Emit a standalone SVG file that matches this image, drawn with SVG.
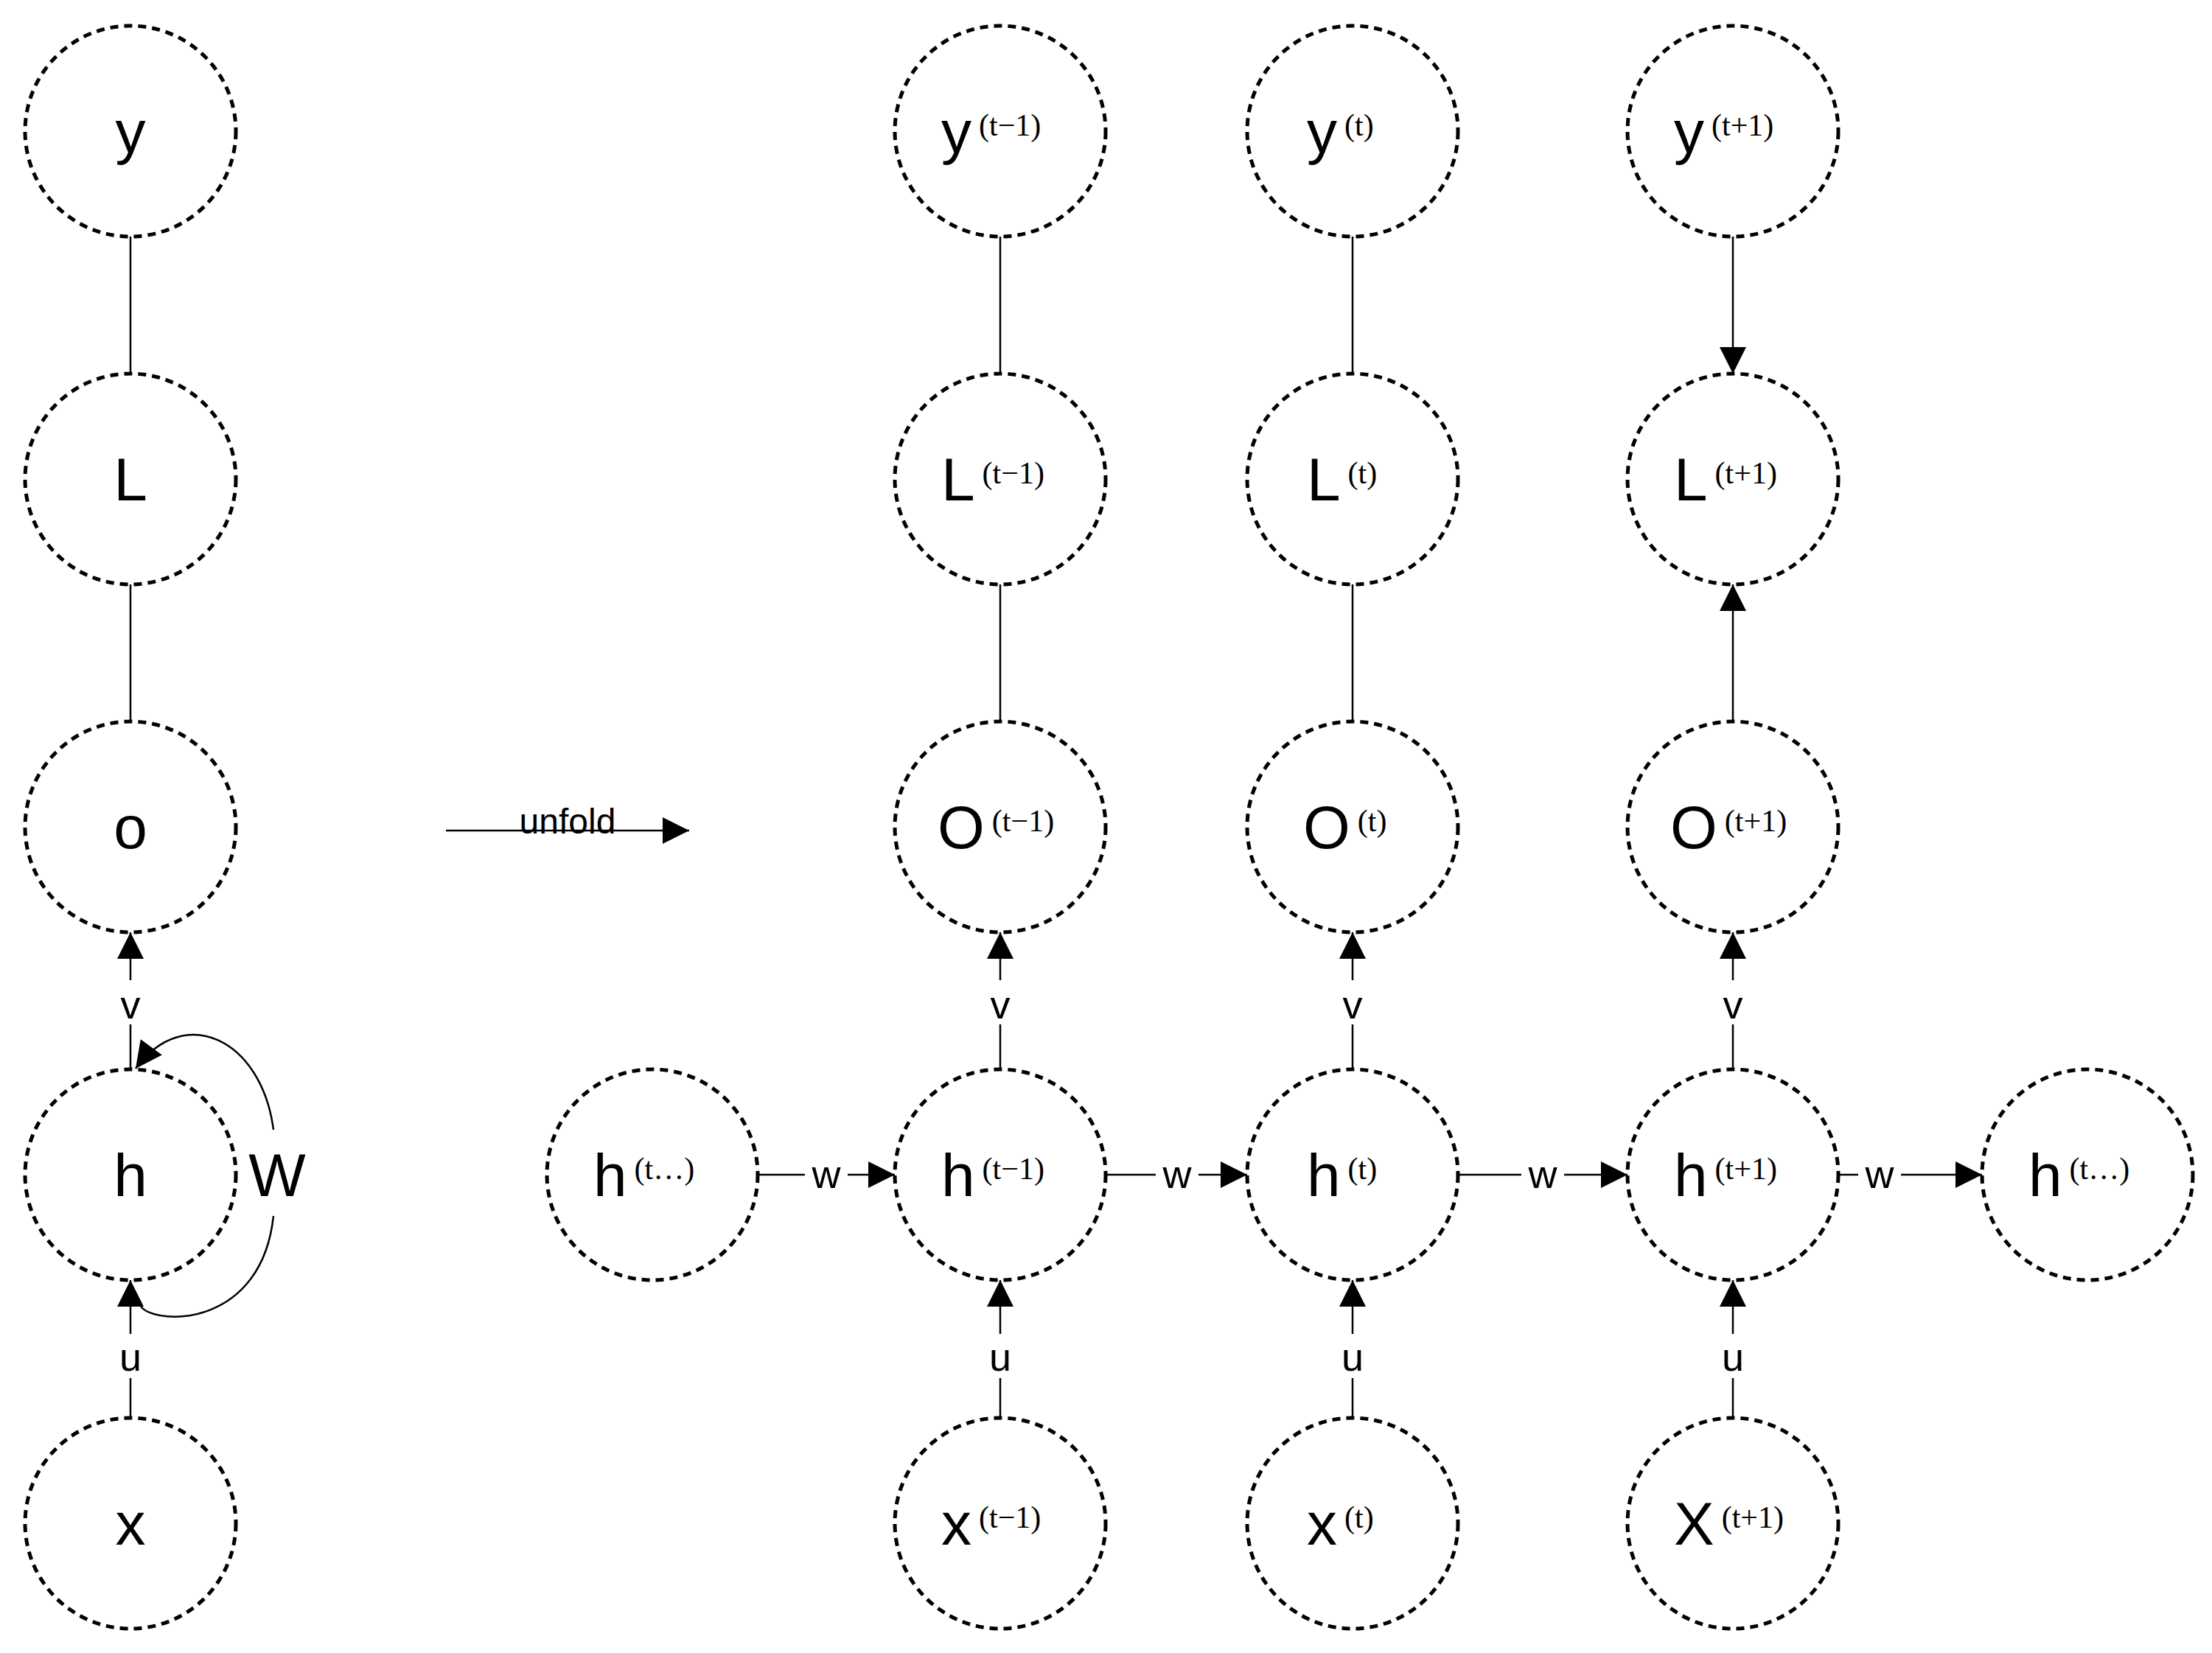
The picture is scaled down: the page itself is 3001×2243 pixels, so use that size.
<svg xmlns="http://www.w3.org/2000/svg" width="3001" height="2243" viewBox="0 0 3001 2243">
<style>
.n{fill:none;stroke:#000;stroke-width:5;stroke-dasharray:11 8}
.m{font-family:"Liberation Sans",Arial,sans-serif;font-size:82px}
.s{font-family:"Liberation Serif","DejaVu Serif",serif;font-size:42px}
.l{font-family:"Liberation Sans",Arial,sans-serif;font-size:54px;text-anchor:middle}
.e{fill:none;stroke:#000;stroke-width:2.5}
.a{marker-end:url(#ar)}
</style>
<defs>
<marker id="ar" markerUnits="userSpaceOnUse" markerWidth="40" markerHeight="40" viewBox="0 0 40 40" refX="38" refY="20" orient="auto"><path d="M2,2 L38,20 L2,38 Z" fill="#000"/></marker>
</defs>
<rect width="3001" height="2243" fill="#fff"/>
<g id="left-y"><circle class="n" cx="177" cy="178" r="143"/><text class="m" x="177" y="207" text-anchor="middle">y</text></g>
<g id="left-L"><circle class="n" cx="177" cy="650" r="143"/><text class="m" x="177" y="679" text-anchor="middle">L</text></g>
<g id="left-o"><circle class="n" cx="177" cy="1122" r="143"/><text class="m" x="177" y="1151" text-anchor="middle">o</text></g>
<g id="left-h"><circle class="n" cx="177" cy="1594" r="143"/><text class="m" x="177" y="1623" text-anchor="middle">h</text></g>
<g id="left-x"><circle class="n" cx="177" cy="2067" r="143"/><text class="m" x="177" y="2096" text-anchor="middle">x</text></g>
<g id="y1"><circle class="n" cx="1357" cy="178" r="143"/><text class="m" x="1277" y="207">y<tspan class="s" dx="10" dy="-23">(t−1)</tspan></text></g>
<g id="y2"><circle class="n" cx="1835" cy="178" r="143"/><text class="m" x="1773" y="207">y<tspan class="s" dx="10" dy="-23">(t)</tspan></text></g>
<g id="y3"><circle class="n" cx="2351" cy="178" r="143"/><text class="m" x="2271" y="207">y<tspan class="s" dx="10" dy="-23">(t+1)</tspan></text></g>
<g id="L1"><circle class="n" cx="1357" cy="650" r="143"/><text class="m" x="1277" y="679">L<tspan class="s" dx="10" dy="-23">(t−1)</tspan></text></g>
<g id="L2"><circle class="n" cx="1835" cy="650" r="143"/><text class="m" x="1773" y="679">L<tspan class="s" dx="10" dy="-23">(t)</tspan></text></g>
<g id="L3"><circle class="n" cx="2351" cy="650" r="143"/><text class="m" x="2271" y="679">L<tspan class="s" dx="10" dy="-23">(t+1)</tspan></text></g>
<g id="O1"><circle class="n" cx="1357" cy="1122" r="143"/><text class="m" x="1272" y="1151">O<tspan class="s" dx="10" dy="-23">(t−1)</tspan></text></g>
<g id="O2"><circle class="n" cx="1835" cy="1122" r="143"/><text class="m" x="1768" y="1151">O<tspan class="s" dx="10" dy="-23">(t)</tspan></text></g>
<g id="O3"><circle class="n" cx="2351" cy="1122" r="143"/><text class="m" x="2266" y="1151">O<tspan class="s" dx="10" dy="-23">(t+1)</tspan></text></g>
<g id="h0"><circle class="n" cx="885" cy="1594" r="143"/><text class="m" x="805" y="1623">h<tspan class="s" dx="10" dy="-23">(t…)</tspan></text></g>
<g id="h1"><circle class="n" cx="1357" cy="1594" r="143"/><text class="m" x="1277" y="1623">h<tspan class="s" dx="10" dy="-23">(t−1)</tspan></text></g>
<g id="h2"><circle class="n" cx="1835" cy="1594" r="143"/><text class="m" x="1773" y="1623">h<tspan class="s" dx="10" dy="-23">(t)</tspan></text></g>
<g id="h3"><circle class="n" cx="2351" cy="1594" r="143"/><text class="m" x="2271" y="1623">h<tspan class="s" dx="10" dy="-23">(t+1)</tspan></text></g>
<g id="h4"><circle class="n" cx="2832" cy="1594" r="143"/><text class="m" x="2752" y="1623">h<tspan class="s" dx="10" dy="-23">(t…)</tspan></text></g>
<g id="x1"><circle class="n" cx="1357" cy="2067" r="143"/><text class="m" x="1277" y="2096">x<tspan class="s" dx="10" dy="-23">(t−1)</tspan></text></g>
<g id="x2"><circle class="n" cx="1835" cy="2067" r="143"/><text class="m" x="1773" y="2096">x<tspan class="s" dx="10" dy="-23">(t)</tspan></text></g>
<g id="x3"><circle class="n" cx="2351" cy="2067" r="143"/><text class="m" x="2271" y="2096">X<tspan class="s" dx="10" dy="-23">(t+1)</tspan></text></g>
<g id="connectors">
<path class="e a" d="M177,321 V507 M1357,321 V507 M1835,321 V507 M2351,321 V507"/>
<path class="e a" d="M177,979 V793 M1357,979 V793 M1835,979 V793 M2351,979 V793"/>
<path class="e" d="M177,1451 V1390 M1357,1451 V1390 M1835,1451 V1390 M2351,1451 V1390"/>
<path class="e a" d="M177,1330 V1265"/><path class="e a" d="M1357,1330 V1265"/><path class="e a" d="M1835,1330 V1265"/><path class="e a" d="M2351,1330 V1265"/>
<path class="e" d="M177,1924 V1870 M1357,1924 V1870 M1835,1924 V1870 M2351,1924 V1870"/>
<path class="e a" d="M177,1810 V1737"/><path class="e a" d="M1357,1810 V1737"/><path class="e a" d="M1835,1810 V1737"/><path class="e a" d="M2351,1810 V1737"/>
<path class="e" d="M1028,1594 H1092 M1500,1594 H1568 M1978,1594 H2064 M2494,1594 H2521"/>
<path class="e a" d="M1150,1594 H1214"/><path class="e a" d="M1626,1594 H1692"/><path class="e a" d="M2122,1594 H2208"/><path class="e a" d="M2579,1594 H2689"/>
<text class="l" x="177" y="1382">v</text><text class="l" x="1357" y="1382">v</text><text class="l" x="1835" y="1382">v</text><text class="l" x="2351" y="1382">v</text>
<text class="l" x="177" y="1860">u</text><text class="l" x="1357" y="1860">u</text><text class="l" x="1835" y="1860">u</text><text class="l" x="2351" y="1860">u</text>
<text class="l" x="1121" y="1612">w</text><text class="l" x="1597" y="1612">w</text><text class="l" x="2093" y="1612">w</text><text class="l" x="2550" y="1612">w</text>
<path class="e" d="M191,1773 C215,1800 355,1800 371,1650"/>
<path class="e a" d="M371,1533 C355,1410 250,1360 184,1450"/>
<text class="m" x="376" y="1623" text-anchor="middle" font-size="80">W</text>
<path class="e a" d="M605,1127 H935"/>
<text x="770" y="1131" text-anchor="middle" font-family="Liberation Sans,Arial,sans-serif" font-size="48">unfold</text>
</g>
</svg>
